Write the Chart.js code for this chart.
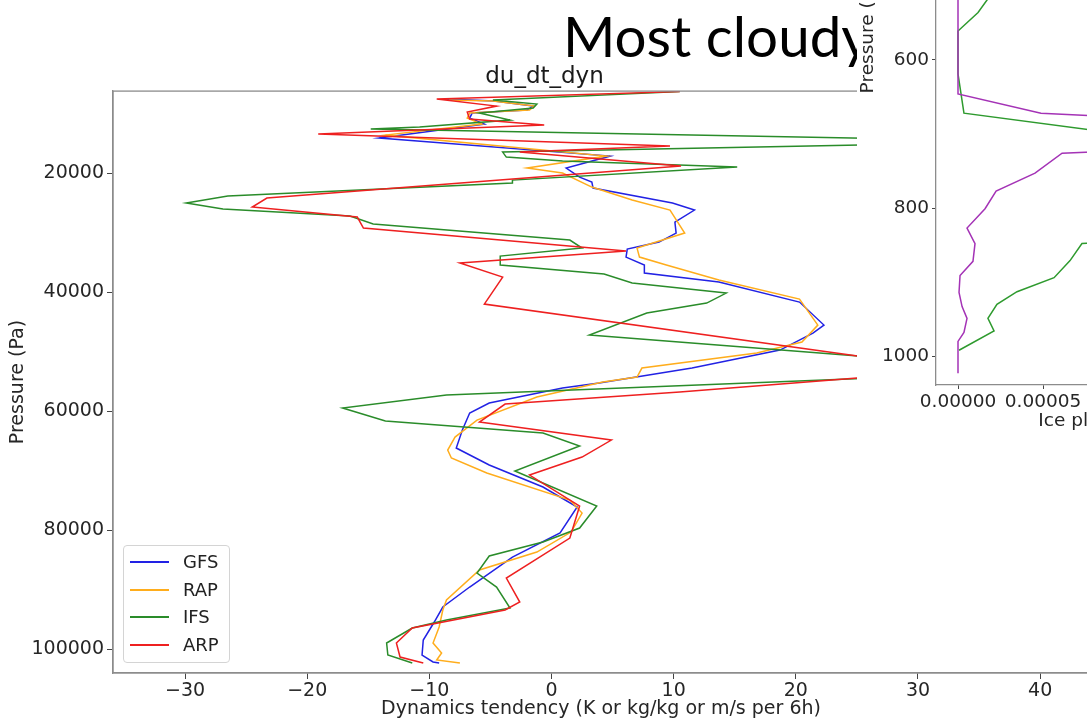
<!DOCTYPE html>
<html>
<head>
<meta charset="utf-8">
<script src="https://cdn.jsdelivr.net/npm/chart.js@4.4.0/dist/chart.umd.min.js"></script>
<style>
  html, body { margin: 0; padding: 0; background: #fff; overflow: hidden; width: 1087px; height: 720px; }
  #main { position: absolute; left: 0; top: 0; }
  #heading { position: absolute; left: 563px; top: 7px; font-family: Lato, sans-serif; font-size: 56.5px; line-height: 56.5px; color: #000; white-space: nowrap; }
  #legend { position: absolute; left: 123px; top: 545px; width: 107px; height: 118px; box-sizing: border-box;
            border: 1px solid #d4d4d4; border-radius: 4px; background: rgba(255,255,255,0.85);
            font-family: "DejaVu Sans", sans-serif; font-size: 18px; color: #222; }
  .row { position: absolute; left: 0; height: 22px; line-height: 22px; width: 100%; }
  .swatch { position: absolute; left: 6px; top: 10px; width: 39px; height: 2px; }
  .name { position: absolute; left: 59px; top: 0; }
  #inset { position: absolute; left: 857px; top: 0; width: 230px; height: 435px; overflow: hidden; background: #fff; }
  #insetCanvas { position: absolute; left: 0; top: -345px; }
</style>
</head>
<body>
<canvas id="main" width="1100" height="720"></canvas>
<div id="heading">Most cloudy</div>
<div id="legend"></div>
<div id="inset"><canvas id="insetCanvas" width="500" height="780"></canvas></div>
<script>
// du_dt_dyn profiles: tendency values and their pressure levels (Pa)
const seriesNames = ['GFS', 'RAP', 'IFS', 'ARP'];
const seriesColors = ['#2222e4', '#ffad1c', '#2a8c2a', '#ee2020'];

const gfsDu = [-8.6, -4.7, -1.5, -2.0, -6.5, -6.7, -5.5, -14.1, 4.8, 1.2, 2.3, 3.3, 3.4, 9.9, 11.7, 10.1, 10.2, 8.8, 6.2, 6.1,
  7.6, 7.6, 13.7, 20.3, 22.3, 21.4, 18.7, 11.5, 3.9, 0.9, -5.1, -6.7, -7.3, -7.8, -5.1, -0.7, 2.1, 0.7, -3.2, -6.7,
  -8.9, -9.6, -10.5, -10.6, -9.7, -9.2];
const gfsP = [7563, 7899, 8739, 9412, 9916, 10756, 11765, 14118, 17143, 19160, 20672, 21513, 22521, 25042, 26218, 28235, 30084, 31597, 32773, 34118,
  35462, 36807, 38319, 41681, 45546, 46891, 49748, 52773, 55294, 56134, 58656, 60336, 63193, 66219, 69076, 72774, 76135, 80505, 84539, 89581,
  92942, 95463, 98489, 101010, 102186, 102353];

const rapDu = [-8.4, -4.8, -1.4, -1.8, -6.7, -6.9, -5.7, -13.6, 4.5, -2.0, 0.9, 3.3, 6.6, 9.7, 10.9, 7.0, 7.2, 9.4, 13.7, 20.3,
  21.8, 20.5, 16.8, 7.4, 7.0, 4.2, -1.2, -6.1, -7.9, -8.5, -8.2, -5.3, 1.5, 2.5, 1.6, -1.2, -5.9, -8.6, -8.9, -9.2,
  -9.7, -9.0, -9.4, -7.5];
const rapP = [7731, 7899, 8739, 9412, 9916, 10756, 11765, 13613, 17143, 19160, 20000, 22353, 24538, 26218, 30084, 32605, 34118, 35462, 37983, 41177,
  45546, 48403, 50252, 52773, 54286, 55126, 57647, 61513, 64370, 66555, 67900, 70421, 74959, 77144, 80337, 83699, 86724, 91766, 93446, 96304,
  98993, 100674, 101850, 102353];

const ifsDu = [10.5, -4.8, -1.2, -1.5, -5.9, -3.4, -10.8, -14.8, 39.9, -4.0, -3.7, 0.9, 15.2, -3.2, -3.2, -26.5, -29.9, -26.9, -16.5, -14.6,
  1.5, 2.5, -4.2, -4.2, 4.3, 6.6, 14.3, 12.7, 7.8, 3.1, 40.8, -8.6, -17.1, -13.6, -0.7, 2.3, -3.0, 3.7, 2.3, -0.7,
  -5.1, -6.1, -4.5, -3.4, -8.6, -11.4, -13.5, -13.4, -11.4];
const ifsP = [6300, 7731, 8403, 9075, 9916, 11092, 12269, 12605, 14690, 16471, 17311, 17983, 18992, 21176, 21681, 23866, 25042, 26050, 27227, 28572,
  31261, 32605, 33950, 35462, 36975, 38487, 40168, 41849, 43530, 47227, 53277, 57311, 59496, 61681, 63698, 65883, 70085, 75967, 79665, 82018,
  84371, 87228, 89581, 93110, 95127, 96472, 98993, 101010, 102353];

const arpDu = [10.5, -9.4, -4.5, -6.9, -6.7, -0.6, -19.1, 9.7, -2.6, 10.6, -23.3, -24.5, -15.9, -15.4, 6.1, -7.5, -4.0, -5.5, 33.3, 10.5,
  -3.8, -5.9, 4.9, 2.5, -1.8, 2.3, 1.5, -3.7, -2.6, -3.8, -11.4, -12.7, -12.4, -10.5];
const arpP = [6300, 7563, 8739, 9748, 10924, 11933, 13445, 15462, 16471, 18824, 24202, 25714, 27395, 29244, 33109, 35126, 37479, 42017, 53100, 56807,
  58824, 61849, 64874, 67732, 70757, 75967, 81346, 88068, 92102, 93446, 96472, 98993, 101346, 102353];

const xTicks = [-30, -20, -10, 0, 10, 20, 30, 40];
const yTicks = [20000, 40000, 60000, 80000, 100000];

// ice profiles for the small panel (kg/kg against hPa)
const iceIfsQ = [0.00006, 0.000025, 0.0000118, 0, 0, 0.0000035, 0.000113, 0.00014, 0.00012, 0.00009, 0.0000729, 0.0000659, 0.0000565,
  0.0000347, 0.0000229, 0.0000176, 0.0000212, 0.0000006];
const iceIfsP = [430, 494, 536, 561, 619, 672, 705, 760, 820, 846, 848, 871, 894, 913, 930, 949, 966, 992];
const iceAltQ = [0, 0, 0.0000488, 0.000113, 0.00013, 0.000113, 0.0000612, 0.0000453, 0.0000224, 0.0000159, 0.0000053, 0.00001,
  0.0000088, 0.0000012, 0.0000006, 0.0000024, 0.0000053, 0.0000035, 0, 0];
const iceAltP = [100, 646, 672, 679, 700, 721, 726, 753, 777, 801, 827, 848, 872, 891, 914, 933, 949, 968, 980, 1023];
const insetXTicks = [0, 0.00005, 0.0001, 0.00015, 0.0002];
const insetYTicks = [200, 400, 600, 800, 1000];

const seriesDu = [gfsDu, rapDu, ifsDu, arpDu];
const seriesP = [gfsP, rapP, ifsP, arpP];

const toPoints = (xs, ps) => xs.map((x, i) => ({ x: x, y: ps[i] }));
const minus = v => (v < 0 ? '\u2212' + Math.abs(v) : String(v));
const tickFont = { family: 'DejaVu Sans', size: 19 };
const smallFont = { family: 'DejaVu Sans', size: 18.5 };

// matplotlib-style box around the plot area
const frame = {
  id: 'frame',
  afterDatasetsDraw(chart) {
    const { ctx, chartArea: a } = chart;
    ctx.save();
    ctx.strokeStyle = '#8c8c8c';
    ctx.lineWidth = 1.3;
    ctx.strokeRect(a.left, a.top, a.right - a.left, a.bottom - a.top);
    ctx.restore();
  }
};

new Chart(document.getElementById('main'), {
  type: 'scatter',
  data: {
    datasets: seriesNames.map((name, i) => ({
      label: name,
      data: toPoints(seriesDu[i], seriesP[i]),
      showLine: true,
      borderColor: seriesColors[i],
      backgroundColor: seriesColors[i],
      borderWidth: 1.5,
      pointRadius: 0,
      tension: 0,
      order: seriesNames.length - 1 - i
    }))
  },
  options: {
    responsive: false,
    animation: false,
    layout: { padding: { left: 0, right: 11, top: 0, bottom: 0 } },
    plugins: {
      legend: { display: false },
      tooltip: { enabled: false },
      title: {
        display: true, text: 'du_dt_dyn', color: '#1a1a1a',
        font: { family: 'DejaVu Sans', size: 23, weight: 'normal' },
        padding: { top: 63.5, bottom: 0 }
      }
    },
    scales: {
      x: {
        type: 'linear', min: -35.9, max: 44,
        afterBuildTicks: s => { s.ticks = xTicks.map(v => ({ value: v })); },
        afterFit: s => { s.height = 47; },
        grid: { drawOnChartArea: false, tickLength: 6, tickColor: '#444' },
        border: { color: '#8c8c8c', width: 1.3 },
        ticks: { color: '#262626', font: tickFont, padding: 1, maxRotation: 0, callback: v => minus(v) },
        title: { display: true, text: 'Dynamics tendency (K or kg/kg or m/s per 6h)', color: '#262626', font: tickFont, padding: { top: 0, bottom: 0 } }
      },
      y: {
        type: 'linear', reverse: true, min: 6218, max: 104034,
        afterBuildTicks: s => { s.ticks = yTicks.map(v => ({ value: v })); },
        afterFit: s => { s.width = 113; },
        grid: { drawOnChartArea: false, tickLength: 6, tickColor: '#444' },
        border: { color: '#8c8c8c', width: 1.3 },
        ticks: { color: '#262626', font: tickFont, padding: 3, callback: v => String(v) },
        title: { display: true, text: 'Pressure (Pa)', color: '#262626', font: tickFont, padding: { top: 7, bottom: 0 } }
      }
    }
  },
  plugins: [frame]
});

// legend box inside the plot
const legendBox = document.getElementById('legend');
seriesNames.forEach((name, i) => {
  const row = document.createElement('div');
  row.className = 'row';
  row.style.top = (5 + i * 27.7) + 'px';
  row.innerHTML = '<span class="swatch" style="background:' + seriesColors[i] + '"></span><span class="name">' + name + '</span>';
  legendBox.appendChild(row);
});

// small panel on the right
new Chart(document.getElementById('insetCanvas'), {
  type: 'scatter',
  data: {
    datasets: [
      { data: toPoints(iceIfsQ, iceIfsP), showLine: true, borderColor: '#2e9a2e', borderWidth: 1.5, pointRadius: 0, order: 1 },
      { data: toPoints(iceAltQ, iceAltP), showLine: true, borderColor: '#a433b6', borderWidth: 1.5, pointRadius: 0, order: 0 }
    ]
  },
  options: {
    responsive: false,
    animation: false,
    layout: { padding: { left: 0, right: 20, top: 10, bottom: 0 } },
    plugins: { legend: { display: false }, tooltip: { enabled: false } },
    scales: {
      x: {
        type: 'linear', min: -0.00001294, max: 0.0002229,
        afterBuildTicks: s => { s.ticks = insetXTicks.map(v => ({ value: v })); },
        afterFit: s => { s.height = 50; },
        grid: { drawOnChartArea: false, tickLength: 4, tickColor: '#444' },
        border: { color: '#8c8c8c', width: 1.3 },
        ticks: { color: '#262626', font: smallFont, padding: 2, maxRotation: 0, callback: v => v.toFixed(5) },
        title: { display: true, text: 'Ice plus snow (kg/kg)', color: '#262626', font: smallFont, padding: { top: 0, bottom: 3 } }
      },
      y: {
        type: 'linear', reverse: true, min: 72.5, max: 1038.9,
        afterBuildTicks: s => { s.ticks = insetYTicks.map(v => ({ value: v })); },
        afterFit: s => { s.width = 79; },
        grid: { drawOnChartArea: false, tickLength: 4, tickColor: '#444' },
        border: { color: '#8c8c8c', width: 1.3 },
        ticks: { color: '#262626', font: smallFont, padding: 3, callback: v => String(v) },
        title: { display: true, text: 'Pressure (hPa)', color: '#262626', font: smallFont, padding: { top: 0, bottom: 0 } }
      }
    }
  }
});
</script>
</body>
</html>
